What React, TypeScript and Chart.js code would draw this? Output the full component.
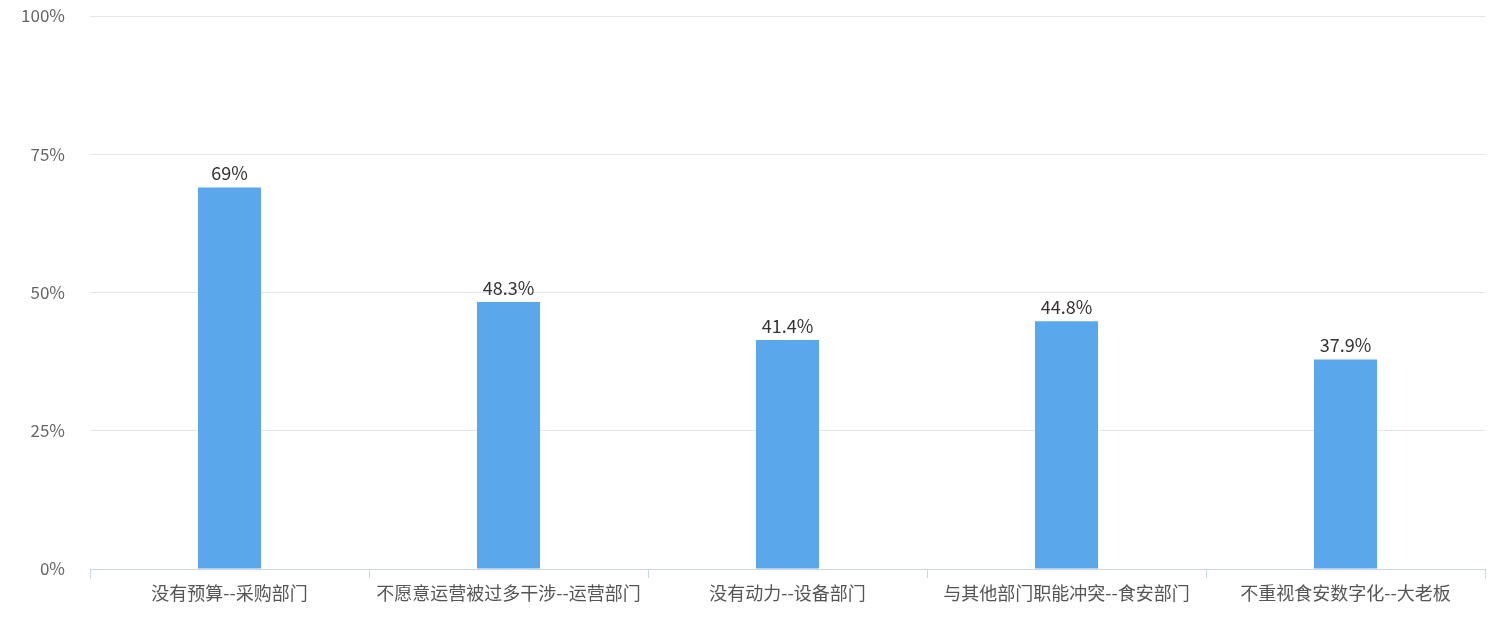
import React, { useRef, useEffect } from 'react'
import Chart from 'chart.js/auto'

// 各部门阻力占比
const categories = [
  '没有预算--采购部门',
  '不愿意运营被过多干涉--运营部门',
  '没有动力--设备部门',
  '与其他部门职能冲突--食安部门',
  '不重视食安数字化--大老板',
]
const values = [69, 48.3, 41.4, 44.8, 37.9]
const yTicks = [0, 25, 50, 75, 100]

const FONT = '"Noto Sans CJK SC", "Noto Sans", sans-serif'

// 柱顶数值标签
const valueLabels = {
  id: 'valueLabels',
  afterDatasetsDraw(chart: any) {
    const ctx = chart.ctx
    const meta = chart.getDatasetMeta(0)
    ctx.save()
    ctx.font = `18px ${FONT}`
    ctx.fillStyle = '#333333'
    ctx.textAlign = 'center'
    ctx.textBaseline = 'bottom'
    meta.data.forEach((bar: any, i: number) => {
      ctx.fillText(values[i] + '%', bar.x, bar.y - 5)
    })
    ctx.restore()
  },
}

const App: React.FC = () => {
  const canvasRef = useRef<HTMLCanvasElement>(null)

  useEffect(() => {
    if (!canvasRef.current) return
    const chart = new Chart(canvasRef.current, {
      type: 'bar',
      data: {
        labels: categories,
        datasets: [{
          data: values,
          backgroundColor: '#5aa7eb',
          categoryPercentage: 1,
          barPercentage: 0.226,
        }],
      },
      options: {
        responsive: true,
        maintainAspectRatio: false,
        animation: false,
        layout: { padding: { top: 16, right: 15, left: 0, bottom: 0 } },
        plugins: {
          legend: { display: false },
          tooltip: { enabled: false },
        },
        scales: {
          y: {
            min: 0,
            max: 100,
            afterBuildTicks: (scale: any) => {
              scale.ticks = yTicks.map((v) => ({ value: v }))
            },
            afterFit: (scale: any) => {
              scale.width = 90
            },
            ticks: {
              padding: 2,
              color: '#666666',
              font: { family: FONT, size: 17 },
              callback: (v: any) => v + '%',
            },
            grid: { color: '#e3e6ea', drawTicks: true, tickLength: 23, tickColor: 'rgba(0,0,0,0)' },
            border: { display: false },
          },
          x: {
            afterFit: (scale: any) => {
              scale.height = 56
            },
            ticks: {
              padding: 4,
              color: '#555555',
              font: { family: FONT, size: 18 },
              maxRotation: 0,
              autoSkip: false,
            },
            grid: {
              offset: true,
              drawOnChartArea: false,
              drawTicks: true,
              tickLength: 9,
              color: '#ccd6eb',
            },
            border: { display: true, color: '#ccd6eb', width: 1 },
          },
        },
      },
      plugins: [valueLabels],
    })
    return () => chart.destroy()
  }, [])

  return (
    <div style={{ position: 'absolute', left: 0, top: 0, width: 1500, height: 625, background: '#fff' }}>
      <canvas ref={canvasRef}></canvas>
    </div>
  )
}

export default App
